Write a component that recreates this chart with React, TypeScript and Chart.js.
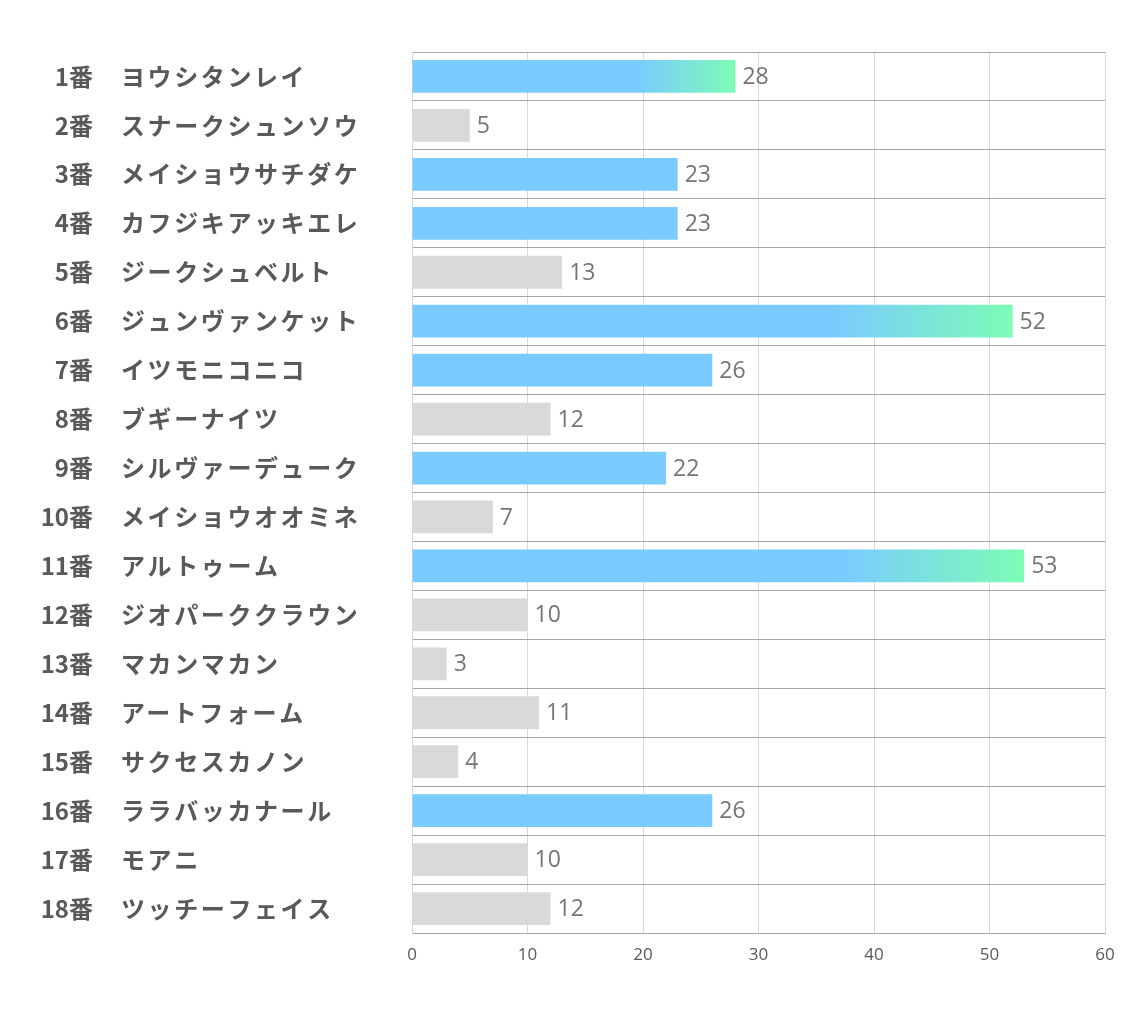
import React, { useEffect, useRef } from "react";
import { Chart, registerables } from "chart.js";

Chart.register(...registerables);

const numbers = ["1番","2番","3番","4番","5番","6番","7番","8番","9番","10番","11番","12番","13番","14番","15番","16番","17番","18番"];
const names = ["ヨウシタンレイ","スナークシュンソウ","メイショウサチダケ","カフジキアッキエレ","ジークシュベルト","ジュンヴァンケット","イツモニコニコ","ブギーナイツ","シルヴァーデューク","メイショウオオミネ","アルトゥーム","ジオパーククラウン","マカンマカン","アートフォーム","サクセスカノン","ララバッカナール","モアニ","ツッチーフェイス"];
const values = [28,5,23,23,13,52,26,12,22,7,53,10,3,11,4,26,10,12];
const kinds = ["grad","gray","blue","blue","gray","grad","blue","gray","blue","gray","grad","gray","gray","gray","gray","blue","gray","gray"];
const xTicks = [0,10,20,30,40,50,60];

const BLUE = "#7ACBFF";
const GREEN = "#7DFCB6";
const GRAY = "#D9D9D9";

export default function App() {
  const ref = useRef<HTMLCanvasElement>(null);
  useEffect(() => {
    if (!ref.current) return;
    const labelsPlugin = {
      id: "sideLabels",
      afterDraw(chart: any) {
        const ctx = chart.ctx;
        const ys = chart.scales.y;
        ctx.save();
        ctx.fillStyle = "#595959";
        ctx.font = "bold 24px 'Noto Sans CJK JP'";
        ctx.textBaseline = "middle";
        for (let i = 0; i < numbers.length; i++) {
          const y = ys.getPixelForValue(i);
          ctx.textAlign = "right";
          (ctx as any).letterSpacing = "0px";
          ctx.fillText(numbers[i], 93, y);
          ctx.textAlign = "left";
          (ctx as any).letterSpacing = "2.6px";
          ctx.fillText(names[i], 121, y);
        }
        (ctx as any).letterSpacing = "0px";
        ctx.restore();
      },
    };
    const valuePlugin = {
      id: "valueLabels",
      afterDatasetsDraw(chart: any) {
        const ctx = chart.ctx;
        const meta = chart.getDatasetMeta(0);
        ctx.save();
        ctx.fillStyle = "#757575";
        ctx.font = "23px 'Open Sans'";
        ctx.textBaseline = "middle";
        ctx.textAlign = "left";
        meta.data.forEach((bar: any, i: number) => {
          ctx.fillText(String(values[i]), bar.x + 7, bar.y + 1);
        });
        ctx.restore();
      },
    };
    const chart = new Chart(ref.current, {
      type: "bar",
      data: {
        labels: names,
        datasets: [
          {
            data: values,
            backgroundColor: (c: any) => {
              const k = kinds[c.dataIndex];
              if (k === "gray") return GRAY;
              if (k === "blue") return BLUE;
              const chartObj = c.chart;
              if (!chartObj.chartArea || !chartObj.scales.x) return BLUE;
              const xs = chartObj.scales.x;
              const x0 = xs.getPixelForValue(0);
              const x1 = xs.getPixelForValue(values[c.dataIndex]);
              const g = chartObj.ctx.createLinearGradient(x0, 0, x1, 0);
              g.addColorStop(0, BLUE);
              g.addColorStop(0.7, BLUE);
              g.addColorStop(1, GREEN);
              return g;
            },
            borderWidth: 0,
            categoryPercentage: 1,
            barPercentage: 0.67,
          },
        ],
      },
      options: {
        indexAxis: "y",
        animation: false,
        responsive: false,
        maintainAspectRatio: false,
        layout: { padding: { left: 0, top: 52, right: 29, bottom: 0 } },
        plugins: { legend: { display: false }, tooltip: { enabled: false } },
        scales: {
          x: {
            min: 0,
            max: 60,
            afterBuildTicks: (s: any) => {
              s.ticks = xTicks.map((v) => ({ value: v }));
            },
            afterFit: (s: any) => {
              s.height = 87;
            },
            grid: { color: "#D9D9D9", lineWidth: 1, drawTicks: false },
            border: { color: "#A6A6A6", width: 1 },
            ticks: {
              color: "#595959",
              font: { family: "'Open Sans'", size: 17 },
              padding: 12,
            },
          },
          y: {
            afterFit: (s: any) => {
              s.width = 412;
            },
            grid: { color: "#A6A6A6", lineWidth: 1, drawTicks: false, offset: true },
            border: { color: "#D9D9D9", width: 1 },
            ticks: { display: false },
          },
        },
      },
      plugins: [labelsPlugin, valuePlugin],
    } as any);
    return () => chart.destroy();
  }, []);
  return (
    <div style={{ position: "absolute", left: 0, top: 0, width: 1134, height: 1020, background: "#fff" }}>
      <canvas ref={ref} width={1134} height={1020} style={{ display: "block" }} />
    </div>
  );
}
